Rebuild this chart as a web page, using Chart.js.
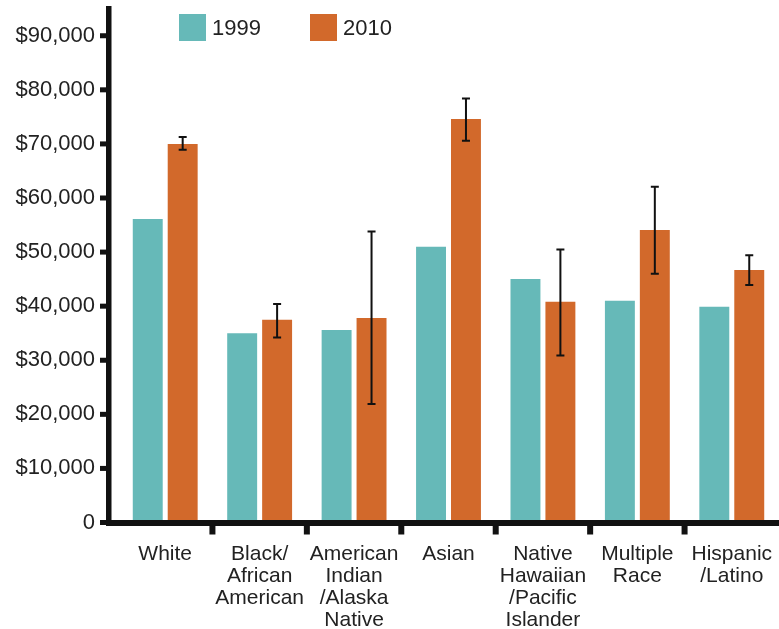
<!DOCTYPE html>
<html>
<head>
<meta charset="utf-8">
<script src="https://cdn.jsdelivr.net/npm/chart.js@4"></script>
<style>
  html, body { margin: 0; padding: 0; background: #fff; }
  #wrap { position: relative; width: 779px; height: 629px; }
  #legend { position: absolute; left: 179px; top: 14px; display: flex; font: 22px "Liberation Sans", Arial, sans-serif; color: #222; }
  .item { display: flex; align-items: center; width: 131px; }
  .sw { width: 27px; height: 27px; margin-right: 6px; }
</style>
</head>
<body>
<div id="wrap">
  <canvas id="c" width="779" height="629"></canvas>
  <div id="legend"></div>
</div>
<script>
// data
const categories = [
  'White',
  ['Black/', 'African', 'American'],
  ['American', 'Indian', '/Alaska', 'Native'],
  'Asian',
  ['Native', 'Hawaiian', '/Pacific', 'Islander'],
  ['Multiple', 'Race'],
  ['Hispanic', '/Latino']
];
const seriesNames = ['1999', '2010'];
const income1999 = [56100, 35000, 35600, 51000, 45000, 41000, 39900];
const income2010 = [70000, 37500, 37800, 74600, 40800, 54100, 46700];
const err2010Low  = [68900, 34200, 21900, 70600, 30900, 46000, 43900];
const err2010High = [71300, 40400, 53800, 78400, 50500, 62100, 49400];
const yTicks = [0, 10000, 20000, 30000, 40000, 50000, 60000, 70000, 80000, 90000];

const colors = ['#66B9B8', '#D2692B'];
const ink = '#111';

// axes, tick marks and error bars
const decor = {
  id: 'decor',
  afterDatasetsDraw(chart) {
    const ctx = chart.ctx;
    const area = chart.chartArea;
    const x = chart.scales.x, y = chart.scales.y;
    const axisX = area.left - 12;
    ctx.save();
    ctx.fillStyle = ink;
    // y axis line
    ctx.fillRect(axisX, area.top, 5.5, area.bottom - area.top + 3);
    // y tick marks
    yTicks.forEach(v => {
      const py = y.getPixelForValue(v);
      ctx.fillRect(axisX - 6, py - 2.5, 6, 5);
    });
    // x axis line
    ctx.fillRect(axisX, area.bottom - 2.5, chart.width - axisX, 6);
    // category separators
    for (let i = 0; i < categories.length - 1; i++) {
      const mx = (x.getPixelForValue(i) + x.getPixelForValue(i + 1)) / 2;
      ctx.fillRect(mx - 3, area.bottom + 3, 6, 9);
    }
    // error bars on 2010 series
    const meta = chart.getDatasetMeta(1);
    ctx.strokeStyle = ink;
    ctx.lineWidth = 2;
    meta.data.forEach((bar, i) => {
      const top = y.getPixelForValue(err2010High[i]);
      const bot = y.getPixelForValue(err2010Low[i]);
      ctx.beginPath();
      ctx.moveTo(bar.x, top); ctx.lineTo(bar.x, bot);
      ctx.moveTo(bar.x - 4, top); ctx.lineTo(bar.x + 4, top);
      ctx.moveTo(bar.x - 4, bot); ctx.lineTo(bar.x + 4, bot);
      ctx.stroke();
    });
    ctx.restore();
  }
};

function noPad(s) {
  s.paddingTop = 0; s.paddingBottom = 0; s.paddingLeft = 0; s.paddingRight = 0;
}

const chart = new Chart(document.getElementById('c'), {
  type: 'bar',
  data: {
    labels: categories,
    datasets: [
      { label: seriesNames[0], data: income1999, backgroundColor: colors[0] },
      { label: seriesNames[1], data: income2010, backgroundColor: colors[1] }
    ]
  },
  options: {
    responsive: false,
    animation: false,
    events: [],
    categoryPercentage: 0.74,
    barPercentage: 0.857,
    layout: { padding: { top: 6, right: 0, left: 0, bottom: 0 } },
    plugins: { legend: { display: false }, tooltip: { enabled: false } },
    scales: {
      x: {
        grid: { display: false, drawTicks: false },
        border: { display: false },
        ticks: {
          color: '#222', padding: 21, maxRotation: 0, autoSkip: false,
          font: { family: '"Liberation Sans", Arial, sans-serif', size: 21, lineHeight: 1.05 }
        },
        afterFit(s) { s.height = 106.5; noPad(s); }
      },
      y: {
        min: 0, max: 95500,
        grid: { display: false, drawTicks: false },
        border: { display: false },
        ticks: {
          color: '#222', padding: 23,
          font: { family: '"Liberation Sans", Arial, sans-serif', size: 22 },
          callback: v => v === 0 ? '0' : '$' + v.toLocaleString('en-US')
        },
        afterBuildTicks(s) { s.ticks = yTicks.map(v => ({ value: v })); },
        afterFit(s) { s.width = 118; noPad(s); }
      }
    }
  },
  plugins: [decor]
});

// html legend built from the datasets
const legend = document.getElementById('legend');
chart.data.datasets.forEach(ds => {
  const item = document.createElement('div');
  item.className = 'item';
  item.innerHTML = '<span class="sw" style="background:' + ds.backgroundColor + '"></span><span>' + ds.label + '</span>';
  legend.appendChild(item);
});
</script>
</body>
</html>
